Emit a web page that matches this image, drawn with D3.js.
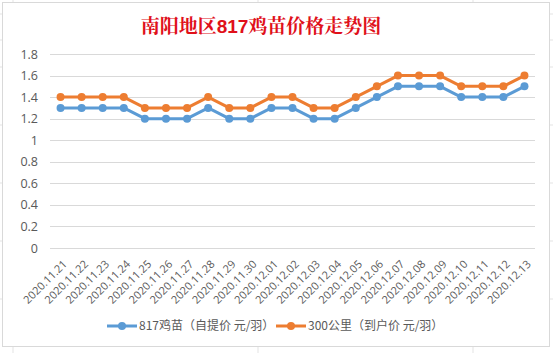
<!DOCTYPE html>
<html>
<head>
<meta charset="utf-8">
<script src="https://cdn.jsdelivr.net/npm/d3@7"></script>
<style>
  body { margin: 0; background: #fff; }
  text { font-family: "Noto Sans CJK SC", "Open Sans", sans-serif; }
</style>
</head>
<body>
<div id="chart"></div>
<script>
// chart data
var dates = ["2020.11.21","2020.11.22","2020.11.23","2020.11.24","2020.11.25","2020.11.26","2020.11.27",
  "2020.11.28","2020.11.29","2020.11.30","2020.12.01","2020.12.02","2020.12.03","2020.12.04","2020.12.05",
  "2020.12.06","2020.12.07","2020.12.08","2020.12.09","2020.12.10","2020.12.11","2020.12.12","2020.12.13"];
var pickup = [1.3,1.3,1.3,1.3,1.2,1.2,1.2,1.3,1.2,1.2,1.3,1.3,1.2,1.2,1.3,1.4,1.5,1.5,1.5,1.4,1.4,1.4,1.5];
var delivered = [1.4,1.4,1.4,1.4,1.3,1.3,1.3,1.4,1.3,1.3,1.4,1.4,1.3,1.3,1.4,1.5,1.6,1.6,1.6,1.5,1.5,1.5,1.6];
var yTicks = [0,0.2,0.4,0.6,0.8,1,1.2,1.4,1.6,1.8];
var seriesNames = ["817鸡苗（自提价 元/羽）", "300公里（到户价 元/羽）"];
var seriesColors = ["#5b9bd5", "#ed7d31"];

const total_width = 553
const total_height = 353
const margin = {left: 50, top: 54, right: 18, bottom: 105}

var width = total_width - margin.left - margin.right;
var height = total_height - margin.top - margin.bottom;

var svg = d3.select("#chart").append("svg").attr("width", total_width).attr("height", total_height);

// faint sheet cell lines outside the chart
var cellX = [13, 258, 473];
cellX.forEach(function(x) {
  svg.append("line").attr("x1", x).attr("x2", x).attr("y1", 0).attr("y2", 3).attr("stroke", "#e3e3e3");
  svg.append("line").attr("x1", x).attr("x2", x).attr("y1", 347).attr("y2", 353).attr("stroke", "#e3e3e3");
});
[14, 40, 67, 125, 183, 241, 299].forEach(function(y) {
  svg.append("line").attr("x1", 550).attr("x2", 553).attr("y1", y).attr("y2", y).attr("stroke", "#e3e3e3");
  svg.append("line").attr("x1", 0).attr("x2", 2).attr("y1", y).attr("y2", y).attr("stroke", "#e3e3e3");
});

// chart area border
svg.append("rect").attr("x", 2.5).attr("y", 2.5).attr("width", 547).attr("height", 344)
  .attr("fill", "#fff").attr("stroke", "#d9d9d9");

var title = svg.append("text").attr("x", 261).attr("y", 33).attr("text-anchor", "middle")
  .attr("font-size", 19).attr("font-weight", "bold").attr("fill", "#e0101a")
  .style("font-family", "'Noto Serif CJK SC', 'Noto Sans CJK SC', serif");
title.append("tspan").text("南阳地区");
title.append("tspan").style("font-family", "'Liberation Sans', Arial, sans-serif").text("817");
title.append("tspan").text("鸡苗价格走势图");

var g = svg.append("g").attr("transform", "translate(" + margin.left + "," + margin.top + ")");

var x = d3.scalePoint().domain(dates).range([0, width]).padding(0.5);
var y = d3.scaleLinear().domain([0, 1.8]).range([height, 0]);

// gridlines
g.append("g").selectAll("line").data(yTicks).join("line")
  .attr("x1", 0).attr("x2", width)
  .attr("y1", function(d) { return Math.round(y(d)) + 0.5; })
  .attr("y2", function(d) { return Math.round(y(d)) + 0.5; })
  .attr("stroke", "#d9d9d9");

var yAxis = d3.axisLeft(y).tickValues(yTicks).tickSize(0).tickPadding(12).tickFormat(function(d) { return d; });
g.append("g").call(yAxis).call(function(s) { s.select(".domain").remove(); })
  .selectAll("text").attr("fill", "#595959").attr("font-size", 12.5).style("font-family", "'Open Sans', sans-serif");

var xAxis = d3.axisBottom(x).tickSize(0).tickPadding(0);
g.append("g").attr("transform", "translate(0," + height + ")").call(xAxis)
  .call(function(s) { s.select(".domain").remove(); })
  .selectAll("text")
  .attr("fill", "#595959").attr("font-size", 11).style("font-family", "'Open Sans', sans-serif")
  .attr("text-anchor", "end").attr("dy", "0.35em")
  .attr("transform", "translate(4,14) rotate(-45)");

var series = [pickup, delivered];
series.forEach(function(vals, i) {
  var line = d3.line().x(function(d, j) { return x(dates[j]); }).y(function(d) { return y(d); });
  g.append("path").datum(vals).attr("d", line)
    .attr("fill", "none").attr("stroke", seriesColors[i]).attr("stroke-width", 3).attr("stroke-linejoin", "round");
  g.append("g").selectAll("circle").data(vals).join("circle")
    .attr("cx", function(d, j) { return x(dates[j]); })
    .attr("cy", function(d) { return y(d); })
    .attr("r", 4).attr("fill", seriesColors[i]);
});

// legend
var legendX = [107, 276];
seriesNames.forEach(function(name, i) {
  var lg = svg.append("g").attr("transform", "translate(" + legendX[i] + ",326)");
  lg.append("line").attr("x1", 0).attr("x2", 30).attr("y1", 0).attr("y2", 0)
    .attr("stroke", seriesColors[i]).attr("stroke-width", 3);
  lg.append("circle").attr("cx", 15).attr("cy", 0).attr("r", 4).attr("fill", seriesColors[i]);
  lg.append("text").attr("x", 32).attr("y", 0).attr("dy", "0.35em")
    .attr("font-size", 12).attr("fill", "#595959").text(name);
});
</script>
</body>
</html>
